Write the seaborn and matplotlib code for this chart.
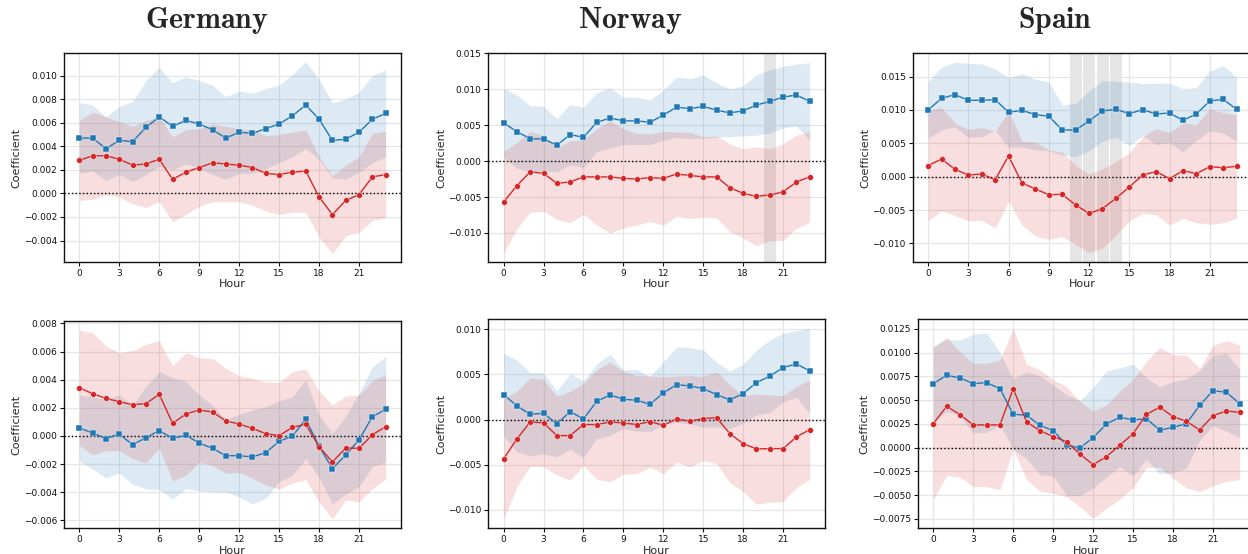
"""Hourly coefficients by country, two rows of panels with 95% bands."""
import matplotlib
matplotlib.use('Agg')
import matplotlib.pyplot as plt
from matplotlib.ticker import MultipleLocator
import numpy as np
import seaborn as sns

HOURS = list(range(24))
COUNTRIES = ['Germany', 'Norway', 'Spain']

# values in units of 1e-3; "ci" = half-width of the shaded band
DE_TOP_SQ = [4.7, 4.7, 3.8, 4.5, 4.4, 5.6, 6.5, 5.7, 6.2, 5.9, 5.4, 4.7,
             5.2, 5.1, 5.5, 5.9, 6.6, 7.5, 6.3, 4.5, 4.6, 5.2, 6.3, 6.8]
DE_TOP_SQ_CI = [3.0, 2.8, 2.7, 2.9, 3.4, 4.0, 4.2, 3.7, 3.7, 3.7, 3.8, 3.5,
                3.5, 3.4, 3.4, 3.3, 3.5, 3.7, 3.4, 3.2, 3.4, 3.4, 3.7, 3.7]
DE_TOP_CI = [2.8, 3.2, 3.2, 2.9, 2.4, 2.5, 2.9, 1.2, 1.8, 2.2, 2.6, 2.5,
             2.4, 2.2, 1.7, 1.6, 1.8, 1.9, -0.3, -1.8, -0.6, -0.1, 1.4, 1.6]
DE_TOP_CI_CI = [3.4, 3.7, 3.3, 3.2, 3.3, 3.7, 3.6, 3.6, 3.6, 3.3, 3.3, 3.2,
                3.1, 3.2, 3.2, 3.4, 3.4, 3.5, 3.4, 3.3, 3.0, 3.2, 3.7, 3.7]

NO_TOP_SQ = [5.3, 4.1, 3.1, 3.1, 2.2, 3.7, 3.3, 5.4, 6.0, 5.6, 5.6, 5.4,
             6.4, 7.5, 7.3, 7.6, 7.1, 6.7, 7.0, 7.8, 8.3, 8.9, 9.2, 8.3]
NO_TOP_SQ_CI = [4.8, 5.1, 4.6, 4.5, 3.7, 4.2, 4.2, 4.1, 4.2, 3.3, 3.3, 3.1,
                3.5, 4.2, 4.2, 4.4, 3.8, 3.3, 3.5, 4.2, 4.4, 4.3, 4.3, 5.4]
NO_TOP_CI = [-5.7, -3.4, -1.5, -1.7, -3.1, -2.9, -2.2, -2.2, -2.2, -2.4, -2.5, -2.3,
             -2.4, -1.8, -2.0, -2.2, -2.2, -3.7, -4.5, -4.9, -4.7, -4.3, -2.9, -2.2]
NO_TOP_CI_CI = [7.1, 6.0, 5.6, 5.3, 5.0, 5.7, 5.2, 6.7, 7.8, 6.9, 6.4, 6.1,
                6.5, 5.9, 6.0, 5.6, 5.7, 6.1, 6.2, 6.9, 6.4, 6.7, 6.5, 6.3]

ES_TOP_SQ = [10.0, 11.75, 12.3, 11.45, 11.45, 11.55, 9.65, 9.95, 9.3, 9.05, 7.0, 7.0,
             8.35, 9.85, 10.1, 9.45, 10.05, 9.4, 9.55, 8.45, 9.4, 11.35, 11.6, 10.1]
ES_TOP_SQ_CI = [4.25, 4.7, 4.85, 5.55, 5.45, 4.6, 5.2, 5.5, 5.3, 5.15, 3.75, 4.0,
                4.5, 4.55, 4.2, 4.75, 3.9, 4.6, 4.45, 4.75, 3.95, 4.5, 5.05, 4.8]
ES_TOP_CI = [1.65, 2.65, 1.1, 0.25, 0.4, -0.45, 3.1, -0.95, -1.85, -2.7, -2.65, -4.25,
             -5.5, -4.8, -3.25, -1.55, 0.25, 0.75, -0.3, 0.9, 0.45, 1.5, 1.35, 1.55]
ES_TOP_CI_CI = [8.25, 7.75, 6.95, 6.85, 6.95, 7.3, 6.7, 6.3, 7.05, 6.7, 6.35, 5.9,
                5.9, 5.95, 5.5, 5.1, 5.75, 6.45, 6.95, 7.15, 7.35, 8.65, 8.25, 7.75]

DE_BOT_SQ = [0.57, 0.21, -0.19, 0.14, -0.62, -0.12, 0.38, -0.17, 0.05, -0.5, -0.88, -1.4,
             -1.4, -1.49, -1.18, -0.38, 0.0, 1.18, -0.73, -2.32, -1.35, -0.28, 1.37, 1.89]
DE_BOT_SQ_CI = [2.36, 2.56, 2.79, 2.77, 2.82, 3.62, 4.19, 4.31, 3.81, 3.41, 3.08, 2.58,
                2.94, 3.34, 3.26, 2.87, 2.79, 2.8, 2.22, 2.51, 2.77, 3.31, 3.55, 3.74]
DE_BOT_CI = [3.43, 3.0, 2.67, 2.44, 2.22, 2.3, 2.96, 0.9, 1.56, 1.85, 1.7, 1.07,
             0.85, 0.54, 0.17, 0.02, 0.62, 0.83, -0.76, -1.85, -0.85, -0.88, 0.09, 0.66]
DE_BOT_CI_CI = [4.1, 4.34, 3.72, 3.48, 3.84, 4.21, 3.81, 4.09, 4.36, 3.71, 3.81, 3.73,
                3.43, 3.55, 3.66, 3.79, 3.95, 3.93, 3.96, 4.05, 3.69, 3.79, 3.84, 3.72]

NO_BOT_SQ = [2.77, 1.51, 0.59, 0.7, -0.48, 0.89, 0.07, 2.03, 2.73, 2.25, 2.14, 1.7,
             2.95, 3.87, 3.73, 3.43, 2.77, 2.18, 2.88, 4.1, 4.8, 5.76, 6.16, 5.39]
NO_BOT_SQ_CI = [4.57, 5.09, 4.61, 4.47, 3.65, 4.17, 4.25, 4.13, 4.5, 3.25, 3.43, 3.06,
                3.47, 4.17, 4.24, 4.28, 3.58, 3.21, 3.25, 3.58, 4.02, 3.8, 3.69, 4.72]
NO_BOT_CI = [-4.35, -2.14, -0.26, -0.37, -1.77, -1.77, -0.55, -0.55, -0.26, -0.37, -0.55, -0.22,
             -0.63, 0.07, -0.18, 0.11, 0.22, -1.55, -2.66, -3.25, -3.21, -3.21, -1.92, -1.11]
NO_BOT_CI_CI = [6.68, 5.28, 4.87, 4.83, 4.36, 4.91, 4.54, 6.06, 6.64, 5.68, 5.43, 5.06,
                5.35, 4.76, 5.06, 4.65, 5.09, 5.42, 5.31, 6.09, 5.94, 5.87, 5.61, 5.5]

ES_BOT_SQ = [6.74, 7.62, 7.34, 6.74, 6.85, 6.21, 3.51, 3.41, 2.35, 1.79, 0.28, -0.04,
             1.05, 2.49, 3.2, 2.91, 3.05, 1.83, 2.14, 2.53, 4.46, 6.0, 5.83, 4.63]
ES_BOT_SQ_CI = [3.96, 3.8, 4.0, 5.2, 5.25, 3.8, 3.7, 4.6, 5.2, 4.8, 5.3, 5.0,
                5.3, 5.6, 5.2, 5.9, 4.3, 4.6, 4.8, 4.7, 3.7, 3.7, 4.1, 3.6]
ES_BOT_CI = [2.53, 4.35, 3.48, 2.39, 2.39, 2.39, 6.21, 2.7, 1.79, 1.16, 0.63, -0.67,
             -1.79, -0.95, 0.25, 1.47, 3.51, 4.25, 3.27, 2.77, 1.86, 3.37, 3.86, 3.72]
ES_BOT_CI_CI = [8.0, 7.27, 6.6, 6.5, 6.5, 6.84, 6.36, 6.08, 6.39, 5.97, 5.8, 5.55,
                5.65, 5.45, 5.7, 5.7, 5.6, 6.3, 6.5, 7.0, 6.5, 7.4, 7.4, 7.1]

# highlighted hours (grey bands)
NO_TOP_HOURS = [20]
ES_TOP_HOURS = [11, 12, 13, 14]

PANELS = [
    # (row, col, squares, sq band, circles, circle band, highlighted, ylim, ystep)
    (0, 0, DE_TOP_SQ, DE_TOP_SQ_CI, DE_TOP_CI, DE_TOP_CI_CI, [], (-5.8, 11.9), 0.002),
    (0, 1, NO_TOP_SQ, NO_TOP_SQ_CI, NO_TOP_CI, NO_TOP_CI_CI, NO_TOP_HOURS, (-14.0, 15.0), 0.005),
    (0, 2, ES_TOP_SQ, ES_TOP_SQ_CI, ES_TOP_CI, ES_TOP_CI_CI, ES_TOP_HOURS, (-12.75, 18.5), 0.005),
    (1, 0, DE_BOT_SQ, DE_BOT_SQ_CI, DE_BOT_CI, DE_BOT_CI_CI, [], (-6.56, 8.17), 0.002),
    (1, 1, NO_BOT_SQ, NO_BOT_SQ_CI, NO_BOT_CI, NO_BOT_CI_CI, [], (-12.03, 11.1), 0.005),
    (1, 2, ES_BOT_SQ, ES_BOT_SQ_CI, ES_BOT_CI, ES_BOT_CI_CI, [], (-8.5, 13.55), 0.0025),
]

BLUE = '#1f77b4'
RED = '#d62728'
W, H = 1248, 554

# axes boxes in pixels: left, top, right, bottom
BOXES = {
    (0, 0): (64, 53.3, 401, 261.7),
    (0, 1): (488.3, 53.3, 825, 261.7),
    (0, 2): (912.7, 53.3, 1252, 261.7),
    (1, 0): (64, 321, 401, 528.3),
    (1, 1): (488.3, 319.3, 825, 528.3),
    (1, 2): (918, 319, 1255, 528.3),
}
TITLE_X = [207, 630, 1055]


def _draw(ax, sq, sq_ci, ci, ci_ci, hl, ylim, ystep):
    x = np.array(HOURS)
    sq = np.array(sq) * 1e-3
    sq_ci = np.array(sq_ci) * 1e-3
    ci = np.array(ci) * 1e-3
    ci_ci = np.array(ci_ci) * 1e-3

    for h in hl:
        ax.axvspan(h - 0.43, h + 0.45, color='0.5', alpha=0.2, lw=0, zorder=0.2)

    ax.fill_between(x, sq - sq_ci, sq + sq_ci, color=BLUE, alpha=0.15, lw=0, zorder=1)
    ax.fill_between(x, ci - ci_ci, ci + ci_ci, color=RED, alpha=0.15, lw=0, zorder=1)
    ax.axhline(0, color='black', lw=1, ls=':', zorder=1.5)

    sns.lineplot(x=x, y=sq, ax=ax, color=BLUE, marker='s', markersize=4.2,
                 linewidth=1, markeredgewidth=0.3, zorder=3)
    sns.lineplot(x=x, y=ci, ax=ax, color=RED, marker='o', markersize=4.2,
                 linewidth=1, markeredgewidth=0.3, zorder=3)

    ax.set_xlim(-1.15, 24.15)
    ax.set_ylim(ylim[0] * 1e-3, ylim[1] * 1e-3)
    ax.set_xticks(range(0, 22, 3))
    ax.yaxis.set_major_locator(MultipleLocator(ystep))
    ax.set_xlabel('Hour', fontsize=8, labelpad=1)
    ax.set_ylabel('Coefficient', fontsize=8, labelpad=1.5)
    ax.tick_params(labelsize=6.5, length=3, width=0.8, color='#111111',
                   labelcolor='#111111', pad=2)
    ax.grid(True, color='#e6e6e6', lw=0.9)
    ax.set_axisbelow(True)
    for s in ax.spines.values():
        s.set_color('#111111')
        s.set_linewidth(1.0)


def main():
    sns.set_theme(style='whitegrid')
    plt.rcParams['font.family'] = ['DejaVu Sans']
    plt.rcParams['mathtext.fontset'] = 'cm'
    plt.rcParams['xtick.bottom'] = True
    plt.rcParams['ytick.left'] = True

    fig = plt.figure(figsize=(W / 100, H / 100), dpi=100)
    for row, col, sq, sq_ci, ci, ci_ci, hl, ylim, ystep in PANELS:
        l, t, r, b = BOXES[(row, col)]
        ax = fig.add_axes([l / W, 1 - b / H, (r - l) / W, (b - t) / H])
        _draw(ax, sq, sq_ci, ci, ci_ci, hl, ylim, ystep)

    for name, xc in zip(COUNTRIES, TITLE_X):
        fig.text(xc / W, 1 - 27.5 / H, r'$\mathbf{%s}$' % name, ha='center',
                 va='baseline', fontsize=21.5)

    fig.savefig('out.png', dpi=100, facecolor='white')


if __name__ == '__main__':
    main()
